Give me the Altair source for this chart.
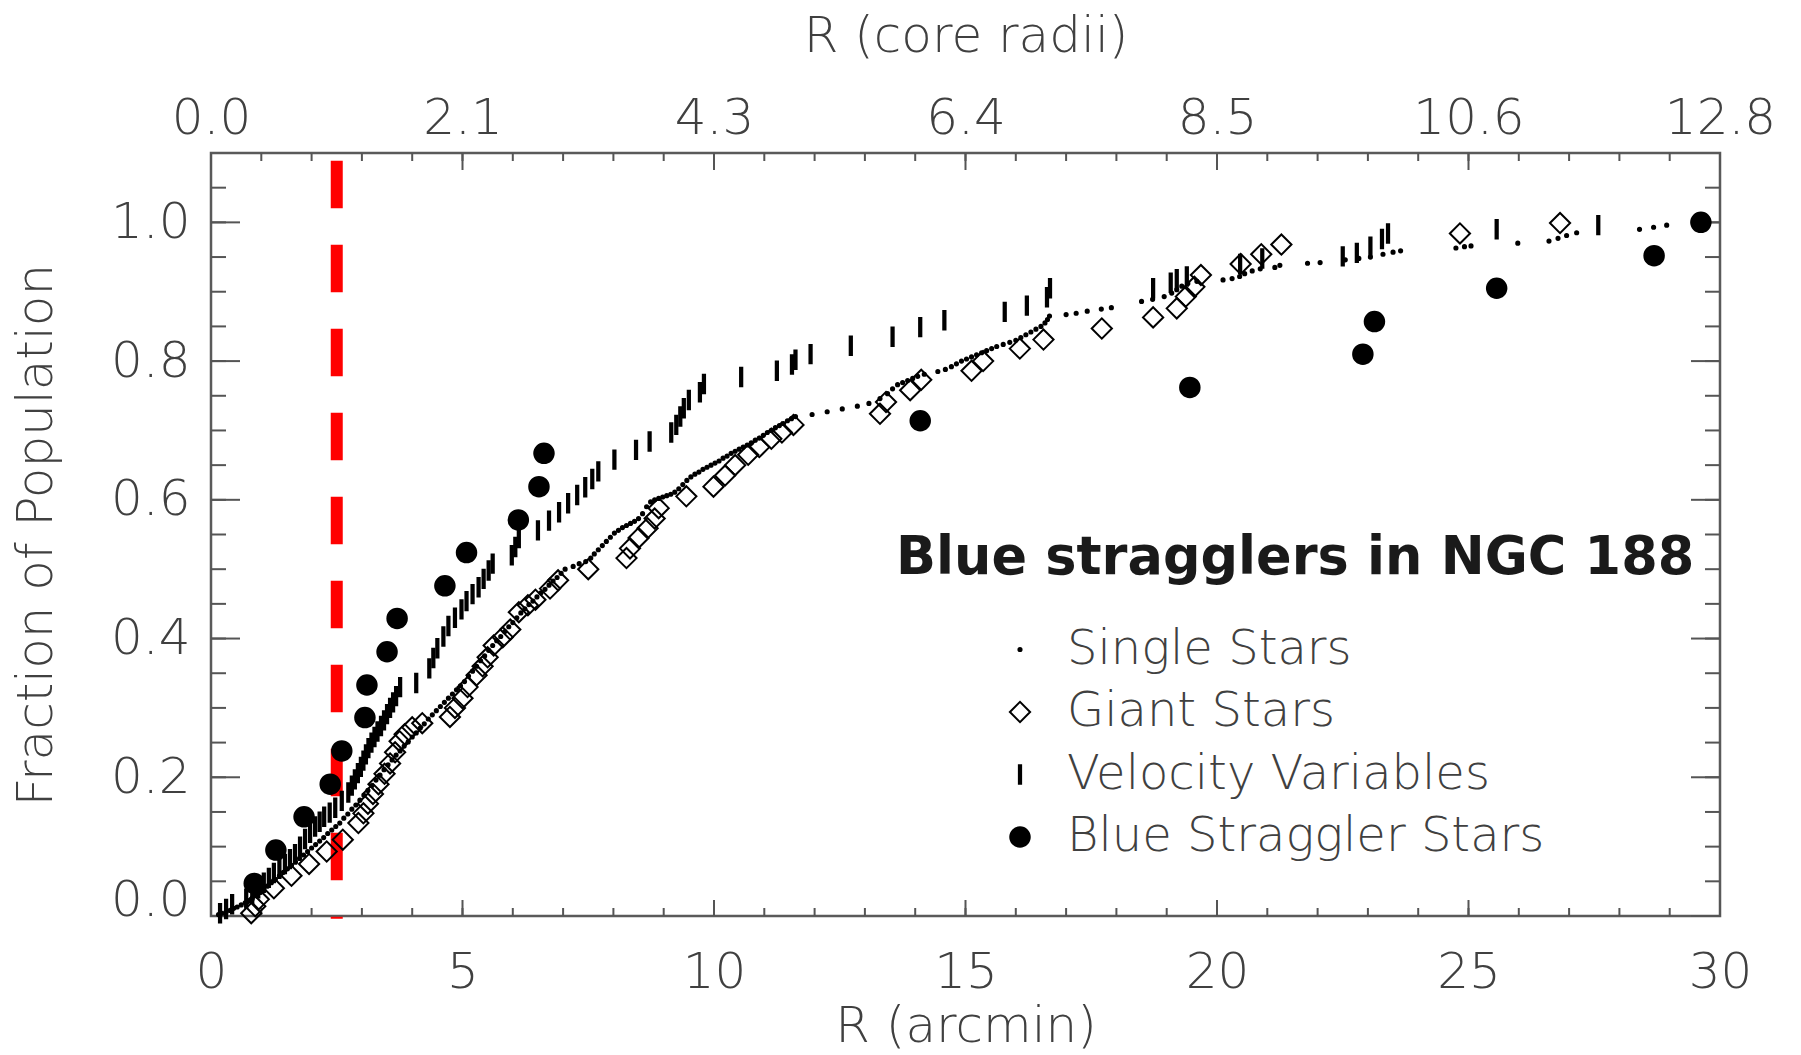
import altair as alt
import pandas as pd

# ---------------- data ----------------
single_x = [0.15, 0.22, 0.3, 0.38, 0.45, 0.52, 0.6, 0.68, 0.75, 0.82, 0.9, 0.98, 1.05, 1.12, 1.2, 1.28,
            1.36, 1.44, 1.52, 1.6, 1.68, 1.76, 1.84, 1.92, 2.0, 2.08, 2.16, 2.24, 2.32, 2.4, 2.48, 2.56,
            2.64, 2.72, 2.8, 2.88, 2.96, 3.04, 3.12, 3.2, 3.28, 3.36, 3.44, 3.52, 3.6, 3.68, 3.76, 3.84,
            3.92, 4.0, 4.08, 4.16, 4.24, 4.32, 4.4, 4.48, 4.56, 4.64, 4.72, 4.8, 4.88, 4.96, 5.04, 5.12,
            5.2, 5.28, 5.36, 5.44, 5.52, 5.6, 5.68, 5.76, 5.84, 5.92, 6.0, 6.08, 6.16, 6.24, 6.32, 6.4,
            6.48, 6.56, 6.64, 6.72, 6.8, 6.88, 6.96, 7.04,
            7.2, 7.32, 7.45,
            7.55, 7.62, 7.7, 7.78, 7.86, 7.94, 8.02, 8.1, 8.18, 8.26, 8.34, 8.42, 8.5, 8.58, 8.66, 8.74,
            8.82, 8.9, 8.98, 9.06, 9.14, 9.22, 9.3, 9.38, 9.46, 9.54, 9.62, 9.7, 9.78, 9.86, 9.94, 10.02,
            10.1, 10.18, 10.26, 10.34, 10.42, 10.5, 10.58, 10.66, 10.74, 10.82, 10.9, 10.98, 11.06, 11.14,
            11.22, 11.3, 11.38, 11.46, 11.54, 11.62,
            11.95, 12.25, 12.55, 12.85, 13.08, 13.3, 13.45, 13.55,
            13.65, 13.75, 13.85, 13.95, 14.05, 14.18, 14.45, 14.6, 14.72, 14.82, 14.92, 15.02, 15.12, 15.22,
            15.32, 15.42, 15.52, 15.62, 15.75, 15.88, 16.0, 16.1, 16.2, 16.3, 16.4, 16.5, 16.58, 16.63,
            16.67, 17.0, 17.2, 17.42, 17.7, 17.9,
            18.5, 18.72, 18.95, 19.1, 19.2, 19.3, 19.42, 19.6, 20.12, 20.3, 20.45, 20.55, 20.7, 20.86,
            21.15, 21.25, 21.8, 22.05, 22.55, 22.82, 23.05, 23.3, 23.5, 23.65, 24.75, 24.92, 25.05, 25.98,
            26.6, 26.78, 26.95, 27.15, 28.4, 28.68, 28.94]
single_y = [0.002, 0.004, 0.006, 0.008, 0.011, 0.013, 0.016, 0.019, 0.022, 0.025, 0.029, 0.034, 0.038, 0.043,
            0.048, 0.053, 0.058, 0.063, 0.068, 0.073, 0.078, 0.083, 0.088, 0.093, 0.098, 0.103, 0.108, 0.113,
            0.119, 0.124, 0.129, 0.134, 0.141, 0.147, 0.154, 0.16, 0.167, 0.174, 0.181, 0.188, 0.196, 0.203,
            0.211, 0.218, 0.225, 0.232, 0.238, 0.245, 0.251, 0.258, 0.264, 0.271, 0.277, 0.284, 0.29, 0.296,
            0.302, 0.308, 0.314, 0.32, 0.326, 0.332, 0.338, 0.346, 0.353, 0.36, 0.368, 0.375, 0.383, 0.39,
            0.397, 0.403, 0.41, 0.417, 0.423, 0.43, 0.437, 0.443, 0.449, 0.454, 0.46, 0.466, 0.471, 0.477,
            0.483, 0.488, 0.494, 0.5,
            0.504, 0.508, 0.511,
            0.516, 0.522, 0.528, 0.534, 0.54, 0.546, 0.552, 0.556, 0.56, 0.563, 0.566, 0.569, 0.573, 0.58,
            0.59, 0.597, 0.6, 0.602, 0.604, 0.606, 0.608, 0.611, 0.616, 0.622, 0.628, 0.633, 0.637, 0.64,
            0.644, 0.647, 0.65, 0.653, 0.656, 0.66, 0.663, 0.667, 0.67, 0.673, 0.676, 0.679, 0.682, 0.686,
            0.689, 0.693, 0.697, 0.7, 0.704, 0.707, 0.71, 0.714, 0.717, 0.72,
            0.723, 0.727, 0.731, 0.735, 0.739, 0.746, 0.753, 0.76,
            0.766, 0.769, 0.772, 0.775, 0.778, 0.781, 0.785, 0.788, 0.792, 0.796, 0.8, 0.803, 0.806, 0.809,
            0.812, 0.815, 0.818, 0.821, 0.824, 0.827, 0.83, 0.834, 0.838, 0.842, 0.846, 0.85, 0.855, 0.86,
            0.865, 0.867, 0.869, 0.872, 0.875, 0.877,
            0.886, 0.889, 0.893, 0.898, 0.903, 0.908, 0.912, 0.915, 0.917, 0.919, 0.922, 0.926, 0.93, 0.933,
            0.935, 0.938, 0.941, 0.942, 0.946, 0.948, 0.95, 0.954, 0.957, 0.959, 0.963, 0.965, 0.966, 0.97,
            0.973, 0.977, 0.981, 0.985, 0.99, 0.993, 0.996]

giant_x = [0.8, 0.88, 0.95, 1.25, 1.6, 1.95, 2.3, 2.62, 2.93, 3.03, 3.12, 3.22, 3.33, 3.45, 3.56, 3.66,
           3.75, 3.85, 4.0, 4.2, 4.75, 4.85, 5.0, 5.1, 5.28, 5.4, 5.5, 5.62, 5.8, 5.95, 6.12, 6.3, 6.45,
           6.74, 6.9, 7.5, 8.26, 8.33, 8.5, 8.68, 8.82, 8.9, 9.45, 9.99, 10.22, 10.42, 10.68, 10.9, 11.14,
           11.35, 11.58, 13.3, 13.42, 13.9, 14.12, 15.12, 15.35, 16.08, 16.55, 17.71, 18.73, 19.2, 19.38,
           19.55, 19.68, 20.47, 20.88, 21.28, 24.83, 26.82]
giant_y = [0.004, 0.014, 0.024, 0.04, 0.058, 0.075, 0.093, 0.11, 0.134, 0.148, 0.162, 0.176, 0.19, 0.205,
           0.22, 0.236, 0.252, 0.262, 0.272, 0.278, 0.287, 0.3, 0.314, 0.33, 0.347, 0.36, 0.373, 0.39, 0.402,
           0.413, 0.438, 0.448, 0.456, 0.472, 0.484, 0.5, 0.516, 0.53, 0.545, 0.559, 0.573, 0.588, 0.605,
           0.619, 0.635, 0.65, 0.665, 0.676, 0.688, 0.697, 0.708, 0.724, 0.741, 0.758, 0.773, 0.786, 0.8,
           0.818, 0.831, 0.847, 0.863, 0.876, 0.893, 0.907, 0.924, 0.94, 0.954, 0.968, 0.984, 0.999]

vv_x = [0.18, 0.3, 0.42, 0.7, 0.82, 0.94, 1.05, 1.15, 1.25, 1.36, 1.47, 1.57, 1.67, 1.77, 1.87, 1.97, 2.07,
        2.16, 2.25, 2.36, 2.47, 2.6, 2.73, 2.8, 2.86, 2.92, 2.98, 3.03, 3.08, 3.13, 3.19, 3.25, 3.31, 3.38,
        3.44, 3.5, 3.56, 3.62, 3.68, 3.76, 4.08, 4.34, 4.42, 4.5, 4.62, 4.72, 4.85, 4.98, 5.08, 5.2, 5.32,
        5.42, 5.52, 5.6, 5.98, 6.05, 6.12, 6.5, 6.72, 6.92, 7.1, 7.28, 7.44, 7.58, 7.7, 8.02, 8.45, 8.72,
        9.15, 9.25, 9.33, 9.4, 9.5, 9.72, 9.8, 10.54, 11.25, 11.55, 11.62, 11.92, 12.72, 13.55, 14.1, 14.58,
        15.78, 16.22, 16.62, 16.68, 18.73, 19.08, 19.2, 19.4, 20.46, 20.9, 22.5, 22.78, 23.05, 23.28, 23.4,
        25.56, 27.58]
vv_y = [0.004, 0.01, 0.017, 0.025, 0.032, 0.04, 0.048, 0.055, 0.062, 0.068, 0.075, 0.082, 0.089, 0.1, 0.111,
        0.12, 0.129, 0.136, 0.143, 0.149, 0.156, 0.166, 0.178, 0.188, 0.197, 0.206, 0.215, 0.224, 0.233,
        0.242, 0.25, 0.258, 0.266, 0.274, 0.282, 0.291, 0.3, 0.308, 0.317, 0.33, 0.336, 0.357, 0.372, 0.386,
        0.403, 0.418, 0.43, 0.442, 0.454, 0.464, 0.474, 0.486, 0.498, 0.508, 0.52, 0.532, 0.545, 0.556, 0.57,
        0.582, 0.595, 0.607, 0.618, 0.63, 0.641, 0.658, 0.672, 0.684, 0.697, 0.708, 0.72, 0.732, 0.744,
        0.755, 0.767, 0.777, 0.786, 0.795, 0.802, 0.81, 0.822, 0.835, 0.849, 0.859, 0.871, 0.88, 0.892,
        0.905, 0.905, 0.913, 0.918, 0.922, 0.94, 0.948, 0.951, 0.956, 0.965, 0.976, 0.984, 0.99, 0.996]

bss_x = [0.86, 1.29, 1.85, 2.37, 2.60, 3.06, 3.10, 3.50, 3.70, 4.65, 5.08, 6.11, 6.52, 6.62, 14.10,
         19.46, 22.90, 23.13, 25.56, 28.69, 29.62]
bss_y = [0.047, 0.095, 0.143, 0.190, 0.238, 0.286, 0.333, 0.381, 0.429, 0.476, 0.524, 0.571, 0.619,
         0.667, 0.714, 0.762, 0.810, 0.857, 0.905, 0.952, 1.000]

kinds = ["Single Stars", "Giant Stars", "Velocity Variables", "Blue Straggler Stars"]
legend_title = "Blue stragglers in NGC 188"

core_line_x = [2.5]
core_line_top = [1.089]
core_line_bottom = [-0.004]

x_major = [0, 5, 10, 15, 20, 25, 30]
x_minor = list(range(0, 31))
top_labels = ["0.0", "2.1", "4.3", "6.4", "8.5", "10.6", "12.8"]
y_major = [0.0, 0.2, 0.4, 0.6, 0.8, 1.0]
y_minor = [0.0, 0.05, 0.1, 0.15, 0.2, 0.25, 0.3, 0.35, 0.4, 0.45, 0.5, 0.55, 0.6, 0.65, 0.7,
           0.75, 0.8, 0.85, 0.9, 0.95, 1.0, 1.05]

# ---------------- build tables ----------------
frames = []
for xs_, ys_, k in [(single_x, single_y, kinds[0]), (giant_x, giant_y, kinds[1]),
                    (vv_x, vv_y, kinds[2]), (bss_x, bss_y, kinds[3])]:
    frames.append(pd.DataFrame({"x": xs_, "y": ys_, "kind": k}))
pts = pd.concat(frames, ignore_index=True)

W, H = 1509, 763
FONT = "DejaVu Sans"
FW = 200
TXT = "#404040"
TICK = "#555555"
FS = 50

xs = alt.Scale(domain=[0, 30], nice=False, zero=False)
ys = alt.Scale(domain=[0, 1.1], nice=False, zero=False)

diamond_path = "M-1.75,0L0,-1.75L1.75,0L0,1.75Z"
bar_path = "M-0.14,-1.15L0.14,-1.15L0.14,1.15L-0.14,1.15Z"

leg = alt.Legend(
    title=legend_title, orient="none", legendX=685, legendY=380,
    titleFont="DejaVu Sans", titleFontSize=52.5, titleFontWeight="bold", titleColor="#1a1a1a",
    titleLimit=2000, titlePadding=40, titleAnchor="start",
    labelFont=FONT, labelFontSize=48, labelFontWeight=FW, labelColor=TXT, labelLimit=2000,
    symbolOffset=100, labelOffset=23, rowPadding=14.5, padding=0,
    symbolStrokeColor="black", symbolStrokeWidth=2,
)

bottom_axis = alt.Axis(
    orient="bottom", values=x_major, ticks=False, domain=False, grid=False,
    labelFont=FONT, labelFontSize=FS, labelFontWeight=FW, labelColor=TXT, labelPadding=31,
    labelFlush=False, format="d",
    title="R (arcmin)", titleFont=FONT, titleFontSize=FS, titleFontWeight=FW, titleColor=TXT,
    titleBaseline="alphabetic", titleY=125,
)

label_expr = ""
for v, lab in zip(x_major, top_labels):
    label_expr += f"datum.value == {v} ? '{lab}' : "
label_expr += "''"

top_axis = alt.Axis(
    orient="top", values=x_major, ticks=False, domain=False, grid=False,
    labelFont=FONT, labelFontSize=FS, labelFontWeight=FW, labelColor=TXT, labelPadding=10,
    labelFlush=False, labelExpr=label_expr,
    title="R (core radii)", titleFont=FONT, titleFontSize=FS, titleFontWeight=FW, titleColor=TXT,
    titleBaseline="alphabetic", titleY=-102,
)

left_axis = alt.Axis(
    orient="left", values=y_major, ticks=False, domain=False, grid=False, format=".1f",
    labelFont=FONT, labelFontSize=FS, labelFontWeight=FW, labelColor=TXT, labelPadding=21,
    labelFlush=True, labelFlushOffset=9, labelOverlap=False,
    title="Fraction of Population", titleFont=FONT, titleFontSize=FS, titleFontWeight=FW,
    titleColor=TXT, titleBaseline="alphabetic", titleX=-160,
)

points = alt.Chart(pts).mark_point(filled=True, strokeWidth=2, opacity=1).encode(
    x=alt.X("x:Q", scale=xs, axis=bottom_axis),
    y=alt.Y("y:Q", scale=ys, axis=left_axis),
    shape=alt.Shape("kind:N", scale=alt.Scale(domain=kinds, range=["circle", diamond_path, bar_path, "circle"]), legend=leg),
    fill=alt.Fill("kind:N", scale=alt.Scale(domain=kinds, range=["black", "transparent", "black", "black"]), legend=leg),
    stroke=alt.Stroke("kind:N", scale=alt.Scale(domain=kinds, range=["black", "black", "black", "black"]), legend=leg),
    size=alt.Size("kind:N", scale=alt.Scale(type="point", domain=kinds, range=[10, 380], padding=0), legend=leg),
)

core = alt.Chart(pd.DataFrame({"x": core_line_x, "y": core_line_top, "y2": core_line_bottom})).mark_rule(
    color="#ff0000", strokeWidth=12, strokeDash=[47.5, 36.5], strokeCap="butt"
).encode(x=alt.X("x:Q", scale=xs, axis=None), y=alt.Y("y:Q", scale=ys, axis=None), y2="y2:Q")

xmin_df = pd.DataFrame({"v": x_minor})
xmaj_df = pd.DataFrame({"v": x_major})
ymin_df = pd.DataFrame({"v": y_minor})
ymaj_df = pd.DataFrame({"v": y_major})

def xtick(df, y0, y1, axis=None):
    return alt.Chart(df).mark_rule(color=TICK, strokeWidth=2).encode(
        x=alt.X("v:Q", scale=xs, axis=axis), y=alt.value(y0), y2=alt.value(y1))

def ytick(df, x0, x1):
    return alt.Chart(df).mark_rule(color=TICK, strokeWidth=2).encode(
        y=alt.Y("v:Q", scale=ys, axis=None), x=alt.value(x0), x2=alt.value(x1))

ticks = [
    xtick(xmin_df, H, H - 8), xtick(xmaj_df, H, H - 16),
    xtick(xmin_df, 0, 8, axis=top_axis), xtick(xmaj_df, 0, 17),
    ytick(ymin_df, 0, 15), ytick(ymaj_df, 0, 29),
    ytick(ymin_df, W, W - 15), ytick(ymaj_df, W, W - 29),
]

chart = alt.layer(*ticks, core, points).resolve_axis(x="independent", y="independent").properties(
    width=W, height=H,
    autosize=alt.AutoSizeParams(type="none"),
    padding={"left": 211, "top": 153, "right": 81, "bottom": 139},
    background="white",
).configure_view(stroke="#5a5a5a", strokeWidth=2.5)

chart.save("out.html", embed_options={"renderer": "svg", "actions": False})
